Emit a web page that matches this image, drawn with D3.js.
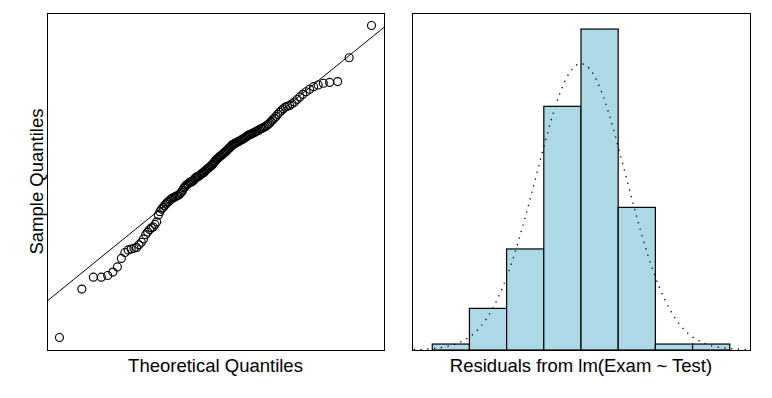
<!DOCTYPE html>
<html>
<head>
<meta charset="utf-8">
<script src="https://cdn.jsdelivr.net/npm/d3@7"></script>
<style>
  html, body { margin: 0; padding: 0; background: #ffffff; }
  svg { display: block; }
  text { font-family: "Liberation Sans", Arial, Helvetica, sans-serif; fill: #000; }
</style>
</head>
<body>
<div id="chart"></div>
<script>
// sorted residuals
var qqSample = [
  -19.5, -13.8, -12.4, -12.4, -12.2, -11.8, -11.2, -10.2, -9.5, -9.2,
  -9.1, -9.0, -8.9, -8.6, -8.3, -7.9, -7.4, -7.1, -6.8, -6.6,
  -6.5, -6.2, -5.9, -5.1, -4.7, -4.4, -4.2, -4.0, -3.8, -3.6,
  -3.5, -3.3, -3.2, -3.1, -3.0, -2.95, -2.85, -2.8, -2.7, -2.55,
  -2.4, -2.2, -1.9, -1.8, -1.6, -1.5, -1.4, -1.3, -1.2, -1.2,
  -1.1, -1.0, -0.8, -0.7, -0.6, -0.6, -0.5, -0.4, -0.3, -0.2,
  -0.1, -0.1, 0.1, 0.2, 0.3, 0.4, 0.5, 0.6, 0.7, 0.8,
  0.9, 1.1, 1.2, 1.4, 1.5, 1.6, 1.7, 1.8, 1.9, 2.0,
  2.1, 2.2, 2.3, 2.4, 2.5, 2.65, 2.75, 2.85, 3.0, 3.15,
  3.2, 3.3, 3.35, 3.4, 3.5, 3.55, 3.6, 3.7, 3.75, 3.85,
  3.9, 4.0, 4.1, 4.2, 4.3, 4.35, 4.4, 4.5, 4.55, 4.62,
  4.7, 4.8, 4.85, 4.95, 5.05, 5.1, 5.2, 5.3, 5.4, 5.55,
  5.7, 5.9, 6.1, 6.3, 6.5, 6.75, 7.0, 7.2, 7.4, 7.6,
  7.7, 7.8, 8.0, 8.2, 8.5, 8.8, 9.1, 9.4, 9.7, 10.0,
  10.2, 10.4, 10.5, 10.6, 13.4, 17.2
];

// histogram of the same residuals
var histBreaks = [-20, -15, -10, -5, 0, 5, 10, 15, 20];
var histCounts = [1, 7, 17, 41, 54, 24, 1, 1];

// dotted normal density curve, read at these residual values
var curveX = [-22.5, -21, -19.5, -18, -16.5, -15, -13.5, -12, -10.5, -9, -7.5, -6, -4.5, -3, -1.5, 0,
  1.5, 3, 4.5, 6, 7.5, 9, 10.5, 12, 13.5, 15, 16.5, 18, 19.5, 21, 22.5];
var curveDensity = [0.0001, 0.0002, 0.0004, 0.0008, 0.0016, 0.0030, 0.0054, 0.0092, 0.0146, 0.0218,
  0.0306, 0.0403, 0.0500, 0.0584, 0.0640, 0.0660, 0.0640, 0.0584, 0.0500, 0.0403, 0.0306, 0.0218,
  0.0146, 0.0092, 0.0054, 0.0030, 0.0016, 0.0008, 0.0004, 0.0002, 0.0001];

var qqXLabel = "Theoretical Quantiles";
var qqYLabel = "Sample Quantiles";
var histXLabel = "Residuals from lm(Exam ~ Test)";

// inverse normal cdf (Acklam)
function qnorm(p) {
  var a = [-39.69683028665376, 220.9460984245205, -275.9285104469687, 138.3577518672690, -30.66479806614716, 2.506628277459239];
  var b = [-54.47609879822406, 161.5858368580409, -155.6989798598866, 66.80131188771972, -13.28068155288572];
  var c = [-0.007784894002430293, -0.3223964580411365, -2.400758277161838, -2.549732539343734, 4.374664141464968, 2.938163982698783];
  var d = [0.007784695709041462, 0.3224671290700398, 2.445134137142996, 3.754408661907416];
  var plow = 0.02425, q, r;
  if (p < plow) {
    q = Math.sqrt(-2 * Math.log(p));
    return (((((c[0] * q + c[1]) * q + c[2]) * q + c[3]) * q + c[4]) * q + c[5]) /
      ((((d[0] * q + d[1]) * q + d[2]) * q + d[3]) * q + 1);
  }
  if (p <= 1 - plow) {
    q = p - 0.5; r = q * q;
    return (((((a[0] * r + a[1]) * r + a[2]) * r + a[3]) * r + a[4]) * r + a[5]) * q /
      (((((b[0] * r + b[1]) * r + b[2]) * r + b[3]) * r + b[4]) * r + 1);
  }
  q = Math.sqrt(-2 * Math.log(1 - p));
  return -(((((c[0] * q + c[1]) * q + c[2]) * q + c[3]) * q + c[4]) * q + c[5]) /
    ((((d[0] * q + d[1]) * q + d[2]) * q + d[3]) * q + 1);
}

function padded(ext, f) {
  var span = ext[1] - ext[0];
  return [ext[0] - f * span, ext[1] + f * span];
}

var width = 772, height = 398;
var left = { x0: 47, x1: 384, y0: 13, y1: 350 };
var right = { x0: 412, x1: 750, y0: 13, y1: 350 };
var fontSize = "18.5px";

var svg = d3.select("#chart").append("svg")
  .attr("width", width)
  .attr("height", height);

// ---- left panel: normal Q-Q plot ----
var n = qqSample.length;
var sorted = qqSample.slice().sort(d3.ascending);
var pts = sorted.map(function (v, i) {
  return { q: qnorm((i + 1 - 0.5) / n), v: v };
});

var xq = d3.scaleLinear()
  .domain(padded(d3.extent(pts, function (d) { return d.q; }), 0.04))
  .range([left.x0, left.x1]);
var yq = d3.scaleLinear()
  .domain(padded(d3.extent(sorted), 0.04))
  .range([left.y1, left.y0]);

svg.append("clipPath").attr("id", "clipL")
  .append("rect")
  .attr("x", left.x0).attr("y", left.y0)
  .attr("width", left.x1 - left.x0).attr("height", left.y1 - left.y0);

// qqline through the quartiles
var q1 = d3.quantile(sorted, 0.25), q3 = d3.quantile(sorted, 0.75);
var slope = (q3 - q1) / (qnorm(0.75) - qnorm(0.25));
var intercept = q1 - slope * qnorm(0.25);
var xd = xq.domain();

svg.append("line")
  .attr("clip-path", "url(#clipL)")
  .attr("x1", xq(xd[0])).attr("y1", yq(intercept + slope * xd[0]))
  .attr("x2", xq(xd[1])).attr("y2", yq(intercept + slope * xd[1]))
  .attr("stroke", "#000")
  .attr("stroke-width", 1);

svg.append("g")
  .selectAll("circle")
  .data(pts)
  .enter().append("circle")
  .attr("cx", function (d) { return xq(d.q); })
  .attr("cy", function (d) { return yq(d.v); })
  .attr("r", 4)
  .attr("fill", "none")
  .attr("stroke", "#000")
  .attr("stroke-width", 1.15);

svg.append("rect")
  .attr("x", left.x0 + 0.5).attr("y", left.y0 + 0.5)
  .attr("width", left.x1 - left.x0).attr("height", left.y1 - left.y0)
  .attr("fill", "none")
  .attr("stroke", "#000")
  .attr("stroke-width", 1);

svg.append("text")
  .attr("x", (left.x0 + left.x1) / 2)
  .attr("y", 372)
  .attr("text-anchor", "middle")
  .style("font-size", fontSize)
  .text(qqXLabel);

svg.append("text")
  .attr("transform", "rotate(-90)")
  .attr("x", -(left.y0 + left.y1) / 2)
  .attr("y", 43)
  .attr("text-anchor", "middle")
  .style("font-size", fontSize)
  .text(qqYLabel);

// ---- right panel: histogram with normal curve ----
var total = d3.sum(histCounts);
var binW = histBreaks[1] - histBreaks[0];
var bins = histCounts.map(function (c, i) {
  return { x0: histBreaks[i], x1: histBreaks[i + 1], density: c / (total * binW) };
});

var xh = d3.scaleLinear()
  .domain(padded(d3.extent(histBreaks), 0.068))
  .range([right.x0, right.x1]);
var yh = d3.scaleLinear()
  .domain([0, d3.max(bins, function (d) { return d.density; }) * 1.05])
  .range([right.y1, right.y0]);

svg.append("clipPath").attr("id", "clipR")
  .append("rect")
  .attr("x", right.x0).attr("y", right.y0)
  .attr("width", right.x1 - right.x0).attr("height", right.y1 - right.y0);

svg.append("g")
  .selectAll("rect")
  .data(bins)
  .enter().append("rect")
  .attr("x", function (d) { return xh(d.x0); })
  .attr("y", function (d) { return yh(d.density); })
  .attr("width", function (d) { return xh(d.x1) - xh(d.x0); })
  .attr("height", function (d) { return yh(0) - yh(d.density); })
  .attr("fill", "#add8e6")
  .attr("stroke", "#000")
  .attr("stroke-width", 1.2);

var curve = d3.line()
  .x(function (d, i) { return xh(curveX[i]); })
  .y(function (d) { return yh(d); })
  .curve(d3.curveNatural);

svg.append("path")
  .datum(curveDensity)
  .attr("clip-path", "url(#clipR)")
  .attr("d", curve)
  .attr("fill", "none")
  .attr("stroke", "#000")
  .attr("stroke-width", 1.3)
  .attr("stroke-dasharray", "1.3,5.5");

svg.append("rect")
  .attr("x", right.x0 + 0.5).attr("y", right.y0 + 0.5)
  .attr("width", right.x1 - right.x0).attr("height", right.y1 - right.y0)
  .attr("fill", "none")
  .attr("stroke", "#000")
  .attr("stroke-width", 1);

svg.append("text")
  .attr("x", (right.x0 + right.x1) / 2)
  .attr("y", 372)
  .attr("text-anchor", "middle")
  .style("font-size", fontSize)
  .text(histXLabel);
</script>
</body>
</html>
